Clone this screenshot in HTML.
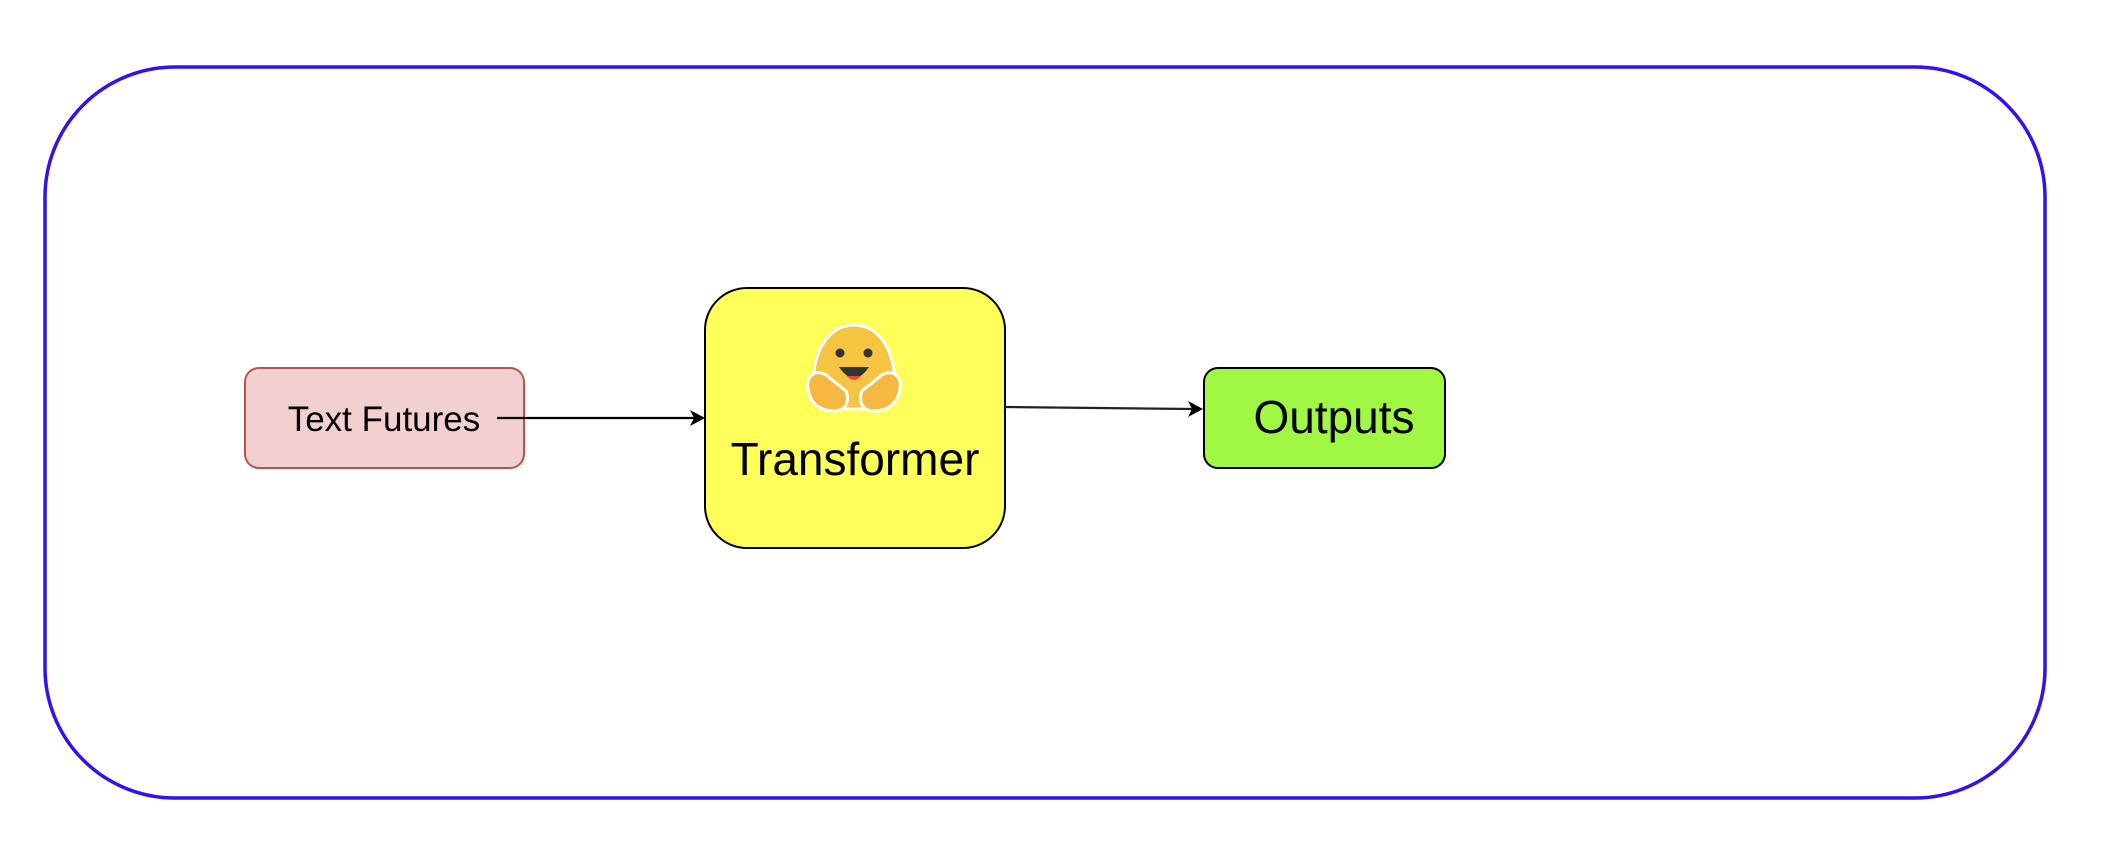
<!DOCTYPE html>
<html><head><meta charset="utf-8"><style>
html,body{margin:0;padding:0;background:#fff;width:2116px;height:854px;overflow:hidden}
svg{display:block}
text{font-family:"Liberation Sans",Arial,sans-serif}
</style></head><body>
<svg width="2116" height="854" viewBox="0 0 2116 854" xmlns="http://www.w3.org/2000/svg">
<rect x="45" y="67" width="2000" height="731" rx="130" ry="130" fill="#fff" stroke="#3311ee" stroke-width="3.5"/>
<rect x="245" y="368" width="279" height="100" rx="14" fill="#f2d0cf" stroke="#b85450" stroke-width="2"/>
<text x="384" y="431" font-size="35" text-anchor="middle" fill="#000">Text Futures</text>
<line x1="497" y1="418" x2="694" y2="418" stroke="#000" stroke-width="2.2"/>
<path d="M705,418 L690,410 L694,418 L690,426 Z" fill="#000"/>
<rect x="705" y="288" width="300" height="260" rx="42" fill="#ffff5a" stroke="#000" stroke-width="2"/>
<g transform="translate(854,367)">
<path d="M-40,25 C-44,-10 -28,-42 0,-42 C28,-42 44,-10 40,25 C38,40 20,42 0,42 C-20,42 -38,40 -40,25 Z" fill="#f5c542" stroke="#fff" stroke-width="3"/>
<circle cx="-14" cy="-14" r="4.5" fill="#333"/><circle cx="14" cy="-14" r="4.5" fill="#333"/>
<path d="M-15,0 Q0,22 15,0 Z" fill="#333"/><path d="M-7,9 Q0,17 7,9 Z" fill="#e44"/>
<path d="M-46,22 C-48,8 -38,2 -28,8 L-8,24 C-4,34 -8,44 -20,44 C-34,44 -44,36 -46,22 Z" fill="#f5b942" stroke="#fff" stroke-width="3"/>
<path d="M46,22 C48,8 38,2 28,8 L8,24 C4,34 8,44 20,44 C34,44 44,36 46,22 Z" fill="#f5b942" stroke="#fff" stroke-width="3"/>
</g>
<text x="855" y="475" font-size="46" text-anchor="middle" fill="#000">Transformer</text>
<line x1="1005" y1="407" x2="1192" y2="409" stroke="#222" stroke-width="2.2"/>
<path d="M1203,409 L1188,401 L1192,409 L1188,417 Z" fill="#000"/>
<rect x="1204" y="368" width="241" height="100" rx="14" fill="#a0f845" stroke="#000" stroke-width="2"/>
<text x="1334" y="433" font-size="46" text-anchor="middle" fill="#000">Outputs</text>
</svg>
</body></html>
